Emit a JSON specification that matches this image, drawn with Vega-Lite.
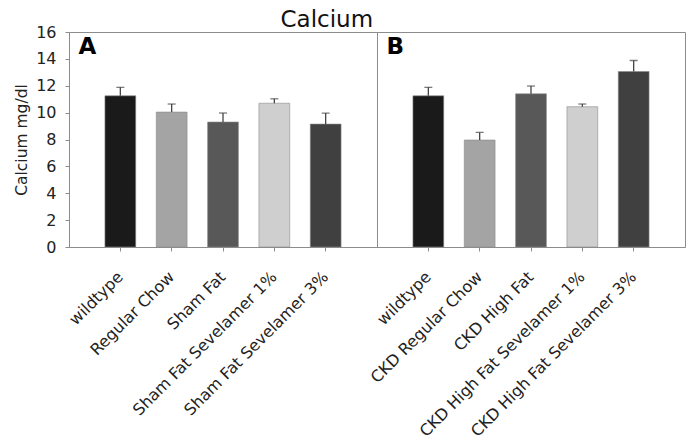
{
  "$schema": "https://vega.github.io/schema/vega-lite/v6.json",
  "padding": {"left": 14, "top": 8, "right": 5, "bottom": 5},
  "background": "white",
  "bounds": "flush",
  "spacing": 0,
  "title": {
    "text": "Calcium",
    "font": "DejaVu Sans",
    "fontSize": 23,
    "fontWeight": "normal",
    "color": "#111",
    "anchor": "middle",
    "dx": -23,
    "offset": -8
  },
  "data": {
    "values": [
      {"panel": "A", "order": 1, "group": "wildtype", "mean": 11.25, "upper": 11.88},
      {"panel": "A", "order": 2, "group": "Regular Chow", "mean": 10.04, "upper": 10.64},
      {"panel": "A", "order": 3, "group": "Sham Fat", "mean": 9.3, "upper": 9.97},
      {"panel": "A", "order": 4, "group": "Sham Fat Sevelamer 1%", "mean": 10.7, "upper": 11.03},
      {"panel": "A", "order": 5, "group": "Sham Fat Sevelamer 3%", "mean": 9.15, "upper": 9.97},
      {"panel": "B", "order": 1, "group": "wildtype", "mean": 11.25, "upper": 11.88},
      {"panel": "B", "order": 2, "group": "CKD Regular Chow", "mean": 7.96, "upper": 8.53},
      {"panel": "B", "order": 3, "group": "CKD High Fat", "mean": 11.4, "upper": 11.98},
      {"panel": "B", "order": 4, "group": "CKD High Fat Sevelamer 1%", "mean": 10.44, "upper": 10.64},
      {"panel": "B", "order": 5, "group": "CKD High Fat Sevelamer 3%", "mean": 13.06, "upper": 13.88}
    ]
  },
  "hconcat": [
    {
      "width": 308,
      "height": 215,
      "transform": [{"filter": "datum.panel == 'A'"}],
      "encoding": {
        "x": {
          "field": "group",
          "type": "nominal",
          "sort": {"field": "order"},
          "scale": {"paddingInner": 0.4, "paddingOuter": 0.7},
          "axis": {"title": null}
        },
        "y": {
          "type": "quantitative",
          "scale": {"domain": [0, 16], "nice": false},
          "axis": {
            "title": "Calcium mg/dl",
            "values": [0, 2, 4, 6, 8, 10, 12, 14, 16]
          }
        }
      },
      "layer": [
        {
          "mark": {"type": "bar", "stroke": "#8a8a8a", "strokeWidth": 0.6},
          "encoding": {
            "y": {"field": "mean"},
            "color": {"field": "order", "type": "ordinal", "legend": null}
          }
        },
        {
          "mark": {"type": "rule", "color": "#444", "strokeWidth": 1.3},
          "encoding": {"y": {"field": "mean"}, "y2": {"field": "upper"}}
        },
        {
          "mark": {"type": "tick", "color": "#444", "size": 8, "thickness": 1.3, "orient": "horizontal"},
          "encoding": {"y": {"field": "upper"}}
        },
        {
          "transform": [{"filter": "datum.order == 1"}],
          "mark": {"type": "text", "font": "DejaVu Sans", "fontWeight": "bold", "fontSize": 23, "align": "center", "baseline": "top", "dx": -33, "dy": 4, "color": "#000"},
          "encoding": {"y": {"datum": 16}, "text": {"field": "panel"}}
        }
      ]
    },
    {
      "width": 308,
      "height": 215,
      "transform": [{"filter": "datum.panel == 'B'"}],
      "encoding": {
        "x": {
          "field": "group",
          "type": "nominal",
          "sort": {"field": "order"},
          "scale": {"paddingInner": 0.4, "paddingOuter": 0.7},
          "axis": {"title": null}
        },
        "y": {
          "type": "quantitative",
          "scale": {"domain": [0, 16], "nice": false},
          "axis": null
        }
      },
      "layer": [
        {
          "mark": {"type": "bar", "stroke": "#8a8a8a", "strokeWidth": 0.6},
          "encoding": {
            "y": {"field": "mean"},
            "color": {"field": "order", "type": "ordinal", "legend": null}
          }
        },
        {
          "mark": {"type": "rule", "color": "#444", "strokeWidth": 1.3},
          "encoding": {"y": {"field": "mean"}, "y2": {"field": "upper"}}
        },
        {
          "mark": {"type": "tick", "color": "#444", "size": 8, "thickness": 1.3, "orient": "horizontal"},
          "encoding": {"y": {"field": "upper"}}
        },
        {
          "transform": [{"filter": "datum.order == 1"}],
          "mark": {"type": "text", "font": "DejaVu Sans", "fontWeight": "bold", "fontSize": 23, "align": "center", "baseline": "top", "dx": -33, "dy": 4, "color": "#000"},
          "encoding": {"y": {"datum": 16}, "text": {"field": "panel"}}
        }
      ]
    }
  ],
  "config": {
    "view": {"stroke": "#8c8c8c", "strokeWidth": 1},
    "range": {"ordinal": ["#1a1a1a", "#a4a4a4", "#585858", "#cfcfcf", "#404040"]},
    "axisX": {
      "labelAngle": -45,
      "labelAlign": "right",
      "labelBaseline": "middle",
      "labelPadding": 23,
      "labelFont": "DejaVu Sans",
      "labelFontSize": 16,
      "labelColor": "#222",
      "labelLimit": 400,
      "labelOverlap": false,
      "tickSize": 4,
      "tickColor": "#8c8c8c",
      "domainColor": "#8c8c8c"
    },
    "axisY": {
      "titleFont": "DejaVu Sans",
      "titleFontSize": 15.5,
      "titleFontWeight": "normal",
      "titleColor": "#222",
      "titlePadding": 6,
      "labelOverlap": false,
      "labelFont": "DejaVu Sans",
      "labelFontSize": 16,
      "labelColor": "#222",
      "labelPadding": 9,
      "tickSize": 4,
      "tickColor": "#8c8c8c",
      "domainColor": "#8c8c8c",
      "grid": false
    }
  }
}
